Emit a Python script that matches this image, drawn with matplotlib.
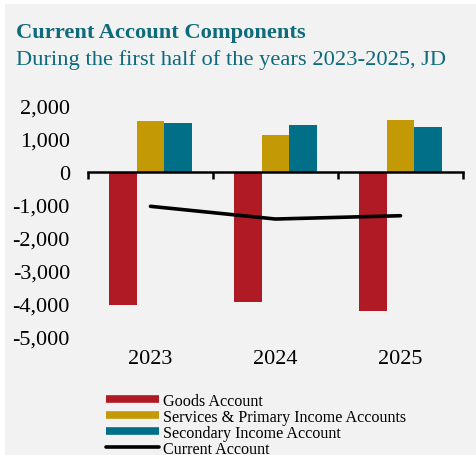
import numpy as np
import matplotlib
matplotlib.use('Agg')
import matplotlib.pyplot as plt
from matplotlib.lines import Line2D
from matplotlib.patches import Rectangle
from matplotlib.ticker import FuncFormatter

#Values in JD million, first half of each year
years = ['2023', '2024', '2025']
goods = [-4030, -3930, -4220]
services_primary = [1540, 1110, 1570]
secondary = [1475, 1425, 1365]
current_account = [-1040, -1425, -1325]

series_names = ['Goods Account',
                'Services & Primary Income Accounts',
                'Secondary Income Account',
                'Current Account']

red = '#b01a25'
gold = '#c39a05'
teal = '#006f87'
title_col = '#0e6b7b'
bg = '#f2f2f2'

plt.rcParams['font.family'] = ['Liberation Serif', 'DejaVu Serif']

W, H = 476, 456
fig = plt.figure(figsize=(W/100, H/100), dpi=100, facecolor='white')
#grey panel with a thin white margin on top and left
fig.patches.append(Rectangle((5/W, 0), 1, 1 - 5/H, transform=fig.transFigure,
                             facecolor=bg, edgecolor='none', zorder=-10))

ax = fig.add_axes([88/W, 1 - 338/H, 375/W, 231/H])
ax.set_facecolor('none')

x = np.arange(len(years))
bw = 0.22
ax.bar(x - bw, goods, bw, color=red, zorder=2)
ax.bar(x, services_primary, bw, color=gold, zorder=2)
ax.bar(x + bw, secondary, bw, color=teal, zorder=2)
ax.plot(x, current_account, color='black', lw=2.6, zorder=3,
        solid_capstyle='round')

ax.set_xlim(-0.5, 2.5)
ax.set_ylim(-5000, 2000)
ax.set_yticks(np.arange(-5000, 2001, 1000))
ax.yaxis.set_major_formatter(FuncFormatter(lambda v, p: '{:,.0f}'.format(v)))
ax.tick_params(axis='y', length=0, pad=13, labelsize=16)

#category axis sits on zero, year labels below the plot
for s in ['top', 'right', 'left']:
    ax.spines[s].set_visible(False)
ax.spines['bottom'].set_position(('data', 0))
ax.spines['bottom'].set_linewidth(1.8)
ax.spines['bottom'].set_zorder(4)
ax.set_xticks([-0.5, 0.5, 1.5, 2.5])
ax.set_xticklabels([])
ax.tick_params(axis='x', direction='out', length=5, width=1.8)
for i, yr in enumerate(years):
    ax.text(i, -0.05, yr, transform=ax.get_xaxis_transform(),
            ha='center', va='top', fontsize=16)

fig.text(16/W, 1 - 38/H, 'Current Account Components', color=title_col,
         fontsize=16.2, fontweight='bold', va='baseline')
fig.text(16/W, 1 - 65/H, 'During the first half of the years 2023-2025, JD',
         color=title_col, fontsize=16.2, va='baseline')

handles = [Line2D([], [], color=red, lw=5.5, solid_capstyle='butt'),
           Line2D([], [], color=gold, lw=5.5, solid_capstyle='butt'),
           Line2D([], [], color=teal, lw=5.5, solid_capstyle='butt'),
           Line2D([], [], color='black', lw=2.6, solid_capstyle='round')]
fig.legend(handles, series_names, loc='upper left',
           bbox_to_anchor=(106/W, 1 - 394/H), frameon=False, fontsize=11.6,
           handlelength=3.3, handletextpad=0.25, labelspacing=0.0,
           borderpad=0, borderaxespad=0)

fig.savefig('out.png', dpi=100, facecolor='white')
